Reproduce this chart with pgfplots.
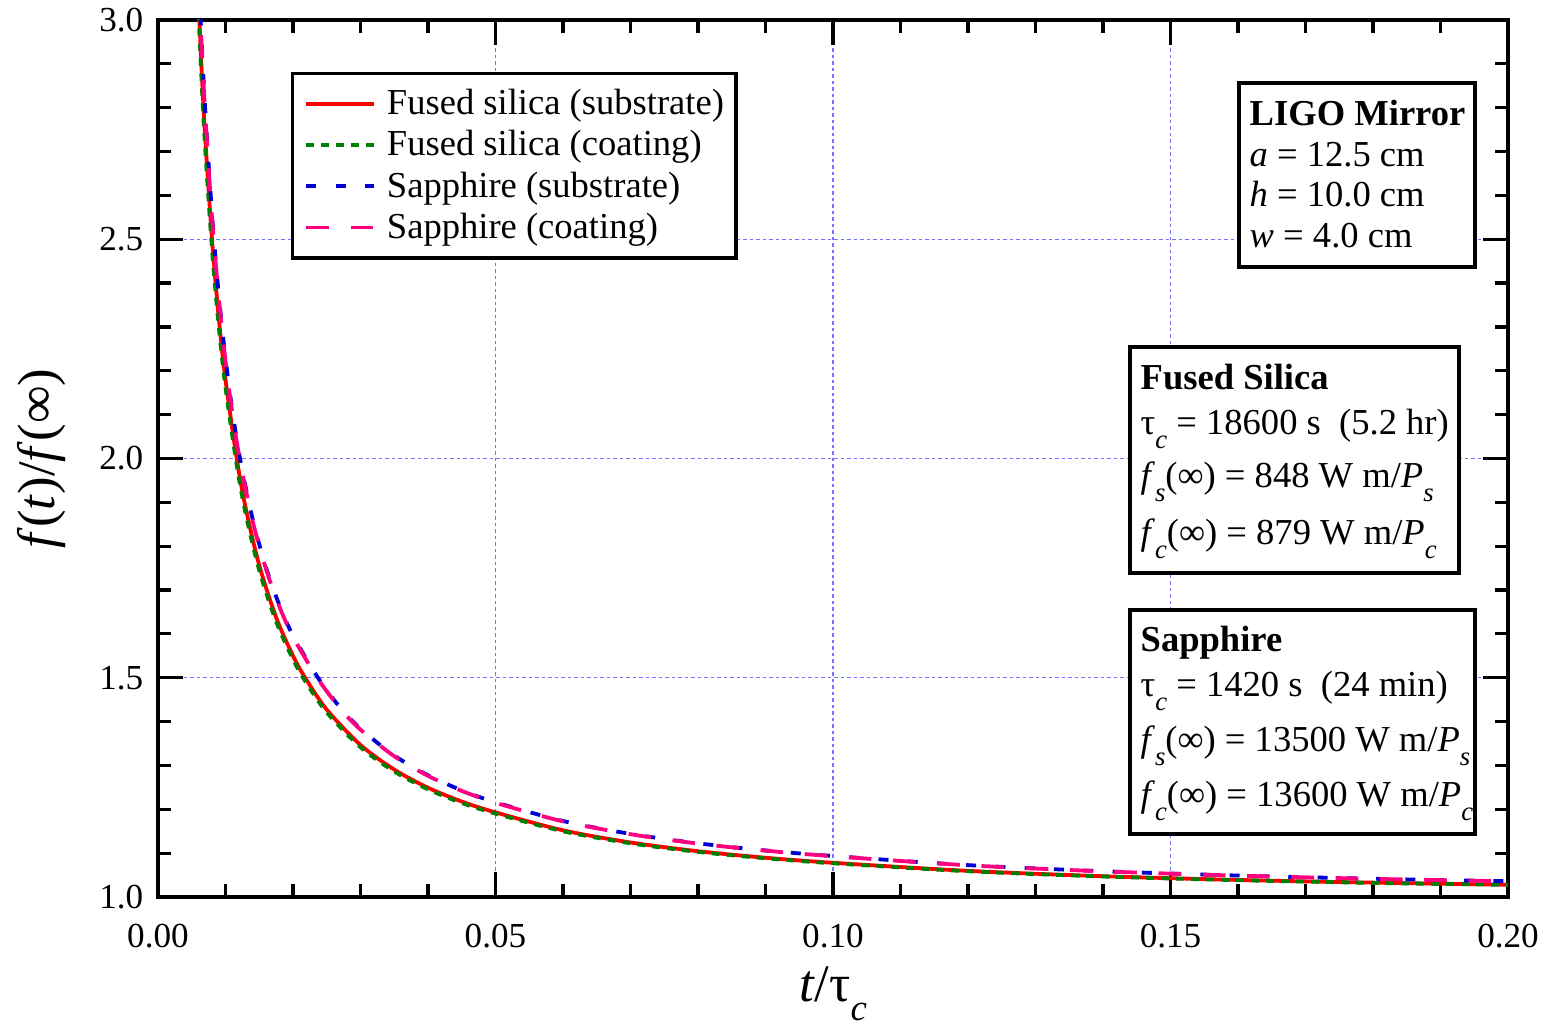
\documentclass[border=0pt]{standalone}
\usepackage{fontspec}
\setmainfont{Liberation Serif}
\usepackage{pgfplots}
\pgfplotsset{compat=1.18}
\definecolor{cRed}{RGB}{255,0,0}
\definecolor{cGreen}{RGB}{0,128,0}
\definecolor{cBlue}{RGB}{0,0,210}
\definecolor{cPink}{RGB}{255,0,128}
\definecolor{cGrid}{RGB}{115,115,255}
\newcommand{\sub}[1]{\raisebox{-0.36em}{\fontsize{7.6}{8}\selectfont\itshape #1}}
\newcommand{\subL}[1]{\raisebox{-0.36em}{\fontsize{10.5}{11}\selectfont\itshape #1}}
\begin{document}
\begin{tikzpicture}
\useasboundingbox (-15.8mm,-13.1mm) rectangle (138.9mm,89.7mm);
\begin{axis}[
  at={(0,0)}, anchor=south west,
  scale only axis, width=135mm, height=87.7mm,
  xmin=0, xmax=0.2, ymin=1, ymax=3,
  xtick={0,0.05,0.1,0.15,0.2}, ytick={1,1.5,2,2.5,3},
  minor x tick num=4, minor y tick num=4,
  tick align=inside, xtick pos=both, ytick pos=both,
  major tick length=2.5mm, minor tick length=1.3mm,
  every tick/.style={black, line width=0.32mm},
  axis line style={line width=0.38mm},
  grid=major,
  major grid style={cGrid, line width=0.12mm, dash pattern=on 0.35mm off 0.3mm},
  scaled x ticks=false, scaled y ticks=false,
  /pgf/number format/assume math mode=true,
  tick label style={font=\fontsize{10}{12}\selectfont},
  xticklabel style={/pgf/number format/fixed, /pgf/number format/fixed zerofill, /pgf/number format/precision=2, anchor=base, yshift=-5.1mm},
  yticklabel style={/pgf/number format/fixed, /pgf/number format/fixed zerofill, /pgf/number format/precision=1, inner xsep=0pt, xshift=-1.4mm},
  xlabel={\textit{t}/τ\subL{c}},
  ylabel={\textit{f}(\textit{t})/\textit{f}(∞)},
  label style={font=\fontsize{15}{18}\selectfont},
  xlabel style={at={(axis description cs:0.5,-0.1190)}, anchor=base, inner sep=0pt},
  ylabel style={at={(axis description cs:-0.0859,0.5)}, anchor=center},
  legend cell align=left,
  legend image code/.code={\draw[#1] (0mm,0mm) -- (6.76mm,0mm);},
  legend style={at={(rel axis cs:0.0985,0.9407)}, anchor=north west,
    draw=black, line width=0.32mm, fill=white,
    font=\fontsize{10.4}{12}\selectfont,
    inner xsep=1.2mm, inner ysep=1mm, row sep=0pt,
    nodes={inner sep=0pt, text height=8.9pt, text depth=2.8pt},
    /tikz/every odd column/.append style={column sep=1.1mm}},
]
\addplot[cRed, line width=0.38mm, smooth] coordinates {
(0.0059,3.080) (0.0065,2.875) (0.007,2.731) (0.008,2.500) (0.009,2.321)
(0.010,2.180) (0.01166,2.000) (0.013,1.8865) (0.015,1.7565) (0.0175,1.6377)
(0.020,1.550) (0.0218,1.500) (0.025,1.4273) (0.030,1.3467) (0.035,1.2905)
(0.040,1.2492) (0.045,1.2177) (0.050,1.193) (0.060,1.1521) (0.070,1.1243)
(0.080,1.1044) (0.090,1.0895) (0.100,1.078) (0.120,1.0596) (0.140,1.0474)
(0.160,1.0389) (0.180,1.0327) (0.200,1.028)};
\addlegendentry{Fused silica (substrate)}
\addplot[cGreen, line width=0.38mm, smooth, dash pattern=on 0.77mm off 0.73mm] coordinates {
(0.0059,3.049) (0.0065,2.847) (0.007,2.705) (0.008,2.477) (0.009,2.301)
(0.010,2.162) (0.01166,1.985) (0.013,1.873) (0.015,1.745) (0.0175,1.628)
(0.020,1.542) (0.0218,1.4925) (0.025,1.4209) (0.030,1.3415) (0.035,1.2861)
(0.040,1.2455) (0.045,1.2144) (0.050,1.1901) (0.060,1.1498) (0.070,1.1224)
(0.080,1.1028) (0.090,1.0882) (0.100,1.0768) (0.120,1.0587) (0.140,1.0467)
(0.160,1.0383) (0.180,1.0322) (0.200,1.0276)};
\addlegendentry{Fused silica (coating)}
\addplot[cBlue, line width=0.38mm, smooth, dash pattern=on 1.0mm off 1.93mm] coordinates {
(0.0061,3.077) (0.0065,2.941) (0.007,2.795) (0.008,2.558) (0.009,2.375)
(0.010,2.229) (0.011,2.111) (0.01215,2.000) (0.014,1.8633) (0.016,1.7516)
(0.018,1.6652) (0.020,1.5963) (0.0237,1.500) (0.027,1.4318) (0.030,1.3836)
(0.035,1.3226) (0.040,1.2777) (0.045,1.2432) (0.050,1.216) (0.060,1.1733)
(0.070,1.1439) (0.080,1.1224) (0.090,1.1062) (0.100,1.0935) (0.120,1.0727)
(0.140,1.0588) (0.160,1.0489) (0.180,1.0416) (0.200,1.036)};
\addlegendentry{Sapphire (substrate)}
\addplot[cPink, line width=0.38mm, smooth, dash pattern=on 2.27mm off 2.16mm] coordinates {
(0.0061,3.066) (0.0065,2.931) (0.007,2.786) (0.008,2.550) (0.009,2.368)
(0.010,2.223) (0.011,2.105) (0.01215,1.995) (0.014,1.859) (0.016,1.748)
(0.018,1.662) (0.020,1.5933) (0.0237,1.4975) (0.027,1.4296) (0.030,1.3817)
(0.035,1.321) (0.040,1.2763) (0.045,1.242) (0.050,1.2149) (0.060,1.1724)
(0.070,1.1432) (0.080,1.1218) (0.090,1.1057) (0.100,1.0930) (0.120,1.0723)
(0.140,1.0585) (0.160,1.0487) (0.180,1.0414) (0.200,1.0358)};
\addlegendentry{Sapphire (coating)}
\end{axis}
\begin{scope}[x=0.1mm, y=-0.1mm, shift={(-158,-897)}, every node/.style={anchor=base west, inner sep=0pt, font=\fontsize{10.4}{12}\selectfont}]
  \draw[line width=0.32mm, fill=white] (1239,83) rectangle (1475,267);
  \node at (1249,126) {\textbf{LIGO Mirror}};
  \node at (1249,167) {\textit{a} = 12.5 cm};
  \node at (1249,207) {\textit{h} = 10.0 cm};
  \node at (1249,248) {\textit{w} = 4.0 cm};
  \draw[line width=0.32mm, fill=white] (1130,347) rectangle (1459,573);
  \node at (1140,390) {\textbf{Fused Silica}};
  \node at (1140,435) {τ\sub{c} = 18600 s\ \ (5.2 hr)};
  \node at (1140,488) {\textit{f}\sub{s}(∞) = 848 W m/\textit{P}\sub{s}};
  \node at (1140,545) {\textit{f}\sub{c}(∞) = 879 W m/\textit{P}\sub{c}};
  \draw[line width=0.32mm, fill=white] (1130,610) rectangle (1475,834);
  \node at (1140,652) {\textbf{Sapphire}};
  \node at (1140,697) {τ\sub{c} = 1420 s\ \ (24 min)};
  \node at (1140,752) {\textit{f}\sub{s}(∞) = 13500 W m/\textit{P}\sub{s}};
  \node at (1140,807) {\textit{f}\sub{c}(∞) = 13600 W m/\textit{P}\sub{c}};
\end{scope}
\end{tikzpicture}
\end{document}
